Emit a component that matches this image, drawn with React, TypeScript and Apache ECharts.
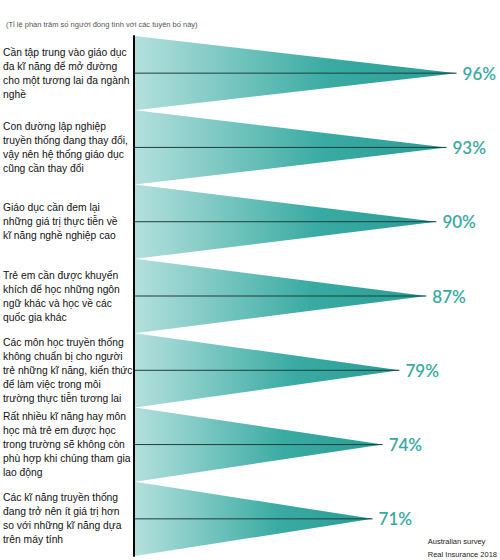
import React, { useEffect, useRef } from "react";
import * as echarts from "echarts";

const categories = [
  "Cần tập trung vào giáo dục\nđa kĩ năng để mở đường\ncho một tương lai đa ngành\nnghề",
  "Con đường lập nghiệp\ntruyền thống đang thay đổi,\nvậy nên hệ thống giáo dục\ncũng cần thay đổi",
  "Giáo dục cần đem lại\nnhững giá trị thực tiễn về\nkĩ năng nghề nghiệp cao",
  "Trẻ em cần được khuyến\nkhích để học những ngôn\nngữ khác và học về các\nquốc gia khác",
  "Các môn học truyền thống\nkhông chuẩn bị cho người\ntrẻ những kĩ năng, kiến thức\nđể làm việc trong môi\ntrường thực tiễn tương lai",
  "Rất nhiều kĩ năng hay môn\nhọc mà trẻ em được học\ntrong trường sẽ không còn\nphù hợp khi chúng tham gia\nlao động",
  "Các kĩ năng truyền thống\nđang trở nên ít giá trị hơn\nso với những kĩ năng dựa\ntrên máy tính",
];
const values = [96, 93, 90, 87, 79, 74, 71];
const subtitle = "(Tỉ lệ phần trăm số người đồng tình với các tuyên bố này)";
const sourceLines = ["Australian survey", "Real Insurance 2018"];

export default function App() {
  const ref = useRef<HTMLDivElement>(null);
  useEffect(() => {
    if (!ref.current) return;
    const chart = echarts.init(ref.current, undefined, { renderer: "svg" });
    chart.setOption({
      animation: false,
      backgroundColor: "#ffffff",
      title: {
        text: subtitle,
        left: 1,
        top: 15,
        textStyle: { fontSize: 7.5, fontWeight: "normal", color: "#555", fontFamily: "Liberation Sans, Arial, sans-serif" },
      },
      grid: { left: 133, right: 30, top: 36, bottom: 4 },
      xAxis: { type: "value", min: 0, max: 100, show: false },
      yAxis: {
        type: "category",
        data: categories,
        inverse: true,
        axisLine: { show: true, lineStyle: { color: "#000", width: 2 } },
        axisTick: { show: false },
        splitLine: { show: false },
        axisLabel: {
          align: "left",
          margin: 131,
          fontSize: 10.3,
          lineHeight: 14,
          color: "#111",
          fontFamily: "Liberation Sans, Arial, sans-serif",
        },
      },
      graphic: [
        {
          type: "text",
          right: 3,
          top: 535,
          style: {
            text: sourceLines.join("\n"),
            fontSize: 7.5,
            lineHeight: 13,
            align: "right",
            fill: "#222",
            fontFamily: "Liberation Sans, Arial, sans-serif",
          },
        },
      ],
      series: [
        {
          type: "custom",
          data: values.map((v, i) => [v, i]),
          encode: { x: 0, y: 1 },
          z: 1,
          renderItem: (params: any, api: any) => {
            const v = api.value(0);
            const idx = api.value(1);
            const start = api.coord([0, idx]);
            const end = api.coord([v, idx]);
            const h = api.size([0, 1])[1];
            const x0 = start[0] + 1;
            const cy = start[1];
            return {
              type: "group",
              children: [
                {
                  type: "polygon",
                  shape: {
                    points: [
                      [x0, cy - h / 2],
                      [x0, cy + h / 2],
                      [end[0], cy],
                    ],
                  },
                  style: {
                    fill: new echarts.graphic.LinearGradient(0, 0, 1, 0, [
                      { offset: 0, color: "#b4e0dd" },
                      { offset: 0.6, color: "#3aaba3" },
                      { offset: 1, color: "#2a9d95" },
                    ]),
                  },
                },
                {
                  type: "line",
                  shape: { x1: x0, y1: cy, x2: end[0], y2: cy },
                  style: { stroke: "#1c3f3d", lineWidth: 1 },
                },
                {
                  type: "text",
                  x: end[0] + 6,
                  y: cy,
                  style: {
                    text: v + "%",
                    fontSize: 17,
                    fontWeight: 600,
                    fontFamily: "Lato, sans-serif",
                    fill: "#3aa9a1",
                    verticalAlign: "middle",
                    align: "left",
                  },
                },
              ],
            };
          },
        },
      ],
    });
    return () => chart.dispose();
  }, []);
  return <div ref={ref} style={{ position: "absolute", left: 0, top: 0, width: 500, height: 560 }} />;
}
